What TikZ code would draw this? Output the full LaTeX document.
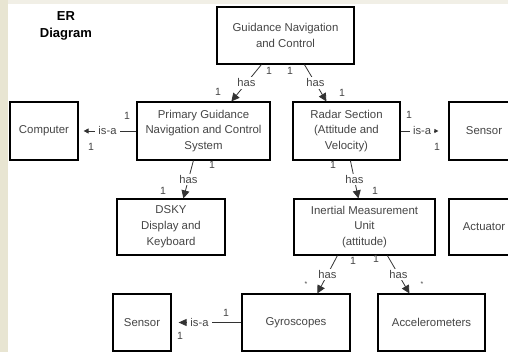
\documentclass[tikz,border=0pt]{standalone}
\usepackage{fontspec}
\setmainfont{Liberation Sans}
\usetikzlibrary{arrows.meta,calc}
\definecolor{textgray}{HTML}{454545}
\definecolor{linegray}{HTML}{333333}
\definecolor{stripleft}{HTML}{E8E5D2}
\definecolor{striptop}{HTML}{F1EFE6}
\begin{document}
\begin{tikzpicture}[x=1pt,y=-1pt,
  entity/.style={draw=black, line width=1.2pt, fill=white, align=center,
    text=textgray, font=\fontsize{11.4}{15.8}\selectfont, inner sep=0pt},
  rel/.style={draw=linegray, line width=0.8pt},
  haslink/.style={rel, -{Triangle[length=8pt,width=8pt]}},
  isalink/.style={rel, -{Triangle[length=5pt,width=5pt]}},
  lbl/.style={fill=white, inner xsep=3pt, inner ysep=1.5pt, text=textgray,
    font=\fontsize{11.2}{13}\selectfont},
  card/.style={text=textgray, font=\fontsize{10.5}{12}\selectfont, inner sep=0pt}
]
% page and slide background
\useasboundingbox (0,0) rectangle (508,352);
\clip (0,0) rectangle (508,352);
\fill[white] (0,0) rectangle (508,352);
\fill[striptop] (0,0) rectangle (508,4);
\fill[stripleft] (0,0) rectangle (8,352);

% title
\node[font=\bfseries\fontsize{13}{17}\selectfont, align=center] (title) at (66,26) {ER\\Diagram};

% entities
\node[entity, minimum width=137pt, minimum height=57pt] (gnc) at (285.5,35.5) {Guidance Navigation\\and Control};
\node[entity, minimum width=68pt, minimum height=58pt] (computer) at (44,131) {Computer};
\node[entity, minimum width=133pt, minimum height=58pt] (pgnc) at (203.5,131) {Primary Guidance\\Navigation and Control\\System};
\node[entity, minimum width=107pt, minimum height=58pt] (radar) at (346.5,131) {Radar Section\\(Attitude and\\Velocity)};
\node[entity, minimum width=70pt, minimum height=58pt] (sensorA) at (484,131) {Sensor};
\node[entity, minimum width=108pt, minimum height=56pt] (dsky) at (171,227) {DSKY\\Display and\\Keyboard};
\node[entity, minimum width=141pt, minimum height=56pt] (imu) at (364.5,227) {Inertial Measurement\\Unit\\(attitude)};
\node[entity, minimum width=70pt, minimum height=56pt] (actuator) at (484,227) {Actuator};
\node[entity, minimum width=58pt, minimum height=57pt] (sensorB) at (142,322.5) {Sensor};
\node[entity, minimum width=108pt, minimum height=57pt] (gyro) at (296,322.5) {Gyroscopes};
\node[entity, minimum width=107pt, minimum height=57pt] (accel) at (431.5,322.5) {Accelerometers};

% "has" relationships
\draw[haslink] ($(gnc.south west)+(45,0)$) -- ($(pgnc.north west)+(95,0)$) node[lbl, pos=0.5] (r1) {has};
\draw[haslink] ($(gnc.south west)+(88,0)$) -- ($(radar.north west)+(34,0)$) node[lbl, pos=0.5] (r2) {has};
\draw[haslink] ($(pgnc.south west)+(57,0)$) -- ($(dsky.north west)+(67,0)$) node[lbl, pos=0.5] (r3) {has};
\draw[haslink] ($(radar.south west)+(58,0)$) -- ($(imu.north west)+(65,0)$) node[lbl, pos=0.5] (r4) {has};
\draw[haslink] ($(imu.south west)+(44,0)$) -- ($(gyro.north west)+(76,0)$) node[lbl, pos=0.5] (r5) {has};
\draw[haslink] ($(imu.south west)+(94,0)$) -- ($(accel.north west)+(32,0)$) node[lbl, pos=0.5] (r6) {has};

% "is-a" relationships
\draw[isalink, shorten >=5pt] (pgnc.west) -- (computer.east) node[lbl, pos=0.5] (r7) {is-a};
\draw[isalink, -{Triangle[length=4pt,width=4pt]}, shorten >=10pt] (radar.east) -- (sensorA.west) node[lbl, pos=0.45] (r8) {is-a};
\draw[isalink, -{Triangle[length=8pt,width=7pt]}, shorten >=7pt] (gyro.west) -- (sensorB.east) node[lbl, pos=0.6] (r9) {is-a};

% cardinalities
\node[card] (c1) at (269,71) {1};
\node[card] (c2) at (290,71) {1};
\node[card] (c3) at (218,92) {1};
\node[card] (c4) at (342,93) {1};
\node[card] (c5) at (127,116) {1};
\node[card] (c6) at (91,147) {1};
\node[card] (c7) at (409,115) {1};
\node[card] (c8) at (437,147) {1};
\node[card] (c9) at (212,165) {1};
\node[card] (c10) at (163,191) {1};
\node[card] (c11) at (333,165) {1};
\node[card] (c12) at (375,191) {1};
\node[card] (c13) at (353,261) {1};
\node[card] (c14) at (376,259) {1};
\node[card, font=\fontsize{7}{8}\selectfont] (c15) at (306,284) {*};
\node[card, font=\fontsize{7}{8}\selectfont] (c16) at (422,284) {*};
\node[card] (c17) at (226,313) {1};
\node[card] (c18) at (180,336) {1};
\end{tikzpicture}
\end{document}
